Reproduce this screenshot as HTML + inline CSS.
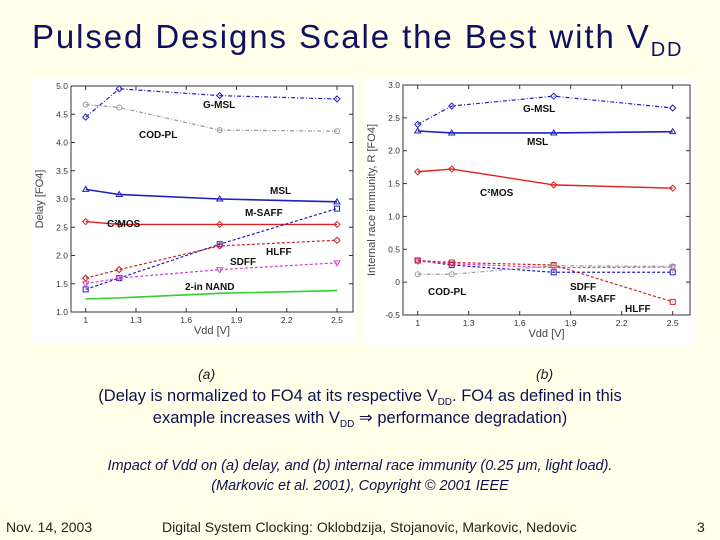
<!DOCTYPE html>
<html><head><meta charset="utf-8"><style>
body{margin:0;background:#ffffea;}
#slide{position:relative;width:720px;height:540px;background:#ffffea;overflow:hidden;font-family:"Liberation Sans",sans-serif;color:#0a0a50;}
.t{position:absolute;white-space:nowrap;}
.sb{font-size:10px;position:relative;top:4px;line-height:0;}
</style></head><body>
<div id="slide">
<div class="t" style="left:32px;top:18px;font-size:33px;color:#101060;letter-spacing:1.9px">Pulsed Designs Scale the Best with V<span style="font-size:20px;position:relative;top:8px;line-height:0">DD</span></div>
<svg id="chart" width="720" height="360" style="position:absolute;left:0;top:0"></svg>
<div class="t" style="left:198px;top:366px;font-size:14px;font-style:italic;color:#222">(a)</div>
<div class="t" style="left:536px;top:366px;font-size:14px;font-style:italic;color:#222">(b)</div>
<div class="t" style="left:0;width:720px;text-align:center;top:385px;font-size:16.5px;line-height:22px;color:#101050">(Delay is normalized to FO4 at its respective V<span class="sb">DD</span>. FO4 as defined in this<br>example increases with V<span class="sb">DD</span> ⇒ performance degradation)</div>
<div class="t" style="left:0;width:720px;text-align:center;top:456px;font-size:14.5px;line-height:20px;font-style:italic;color:#101050">Impact of Vdd on (a) delay, and (b) internal race immunity (0.25 μm, light load).<br>(Markovic et al. 2001), Copyright © 2001 IEEE</div>
<div class="t" style="left:6px;top:519px;font-size:14px;color:#222">Nov. 14, 2003</div>
<div class="t" style="left:162px;top:519px;font-size:14px;color:#222">Digital System Clocking: Oklobdzija, Stojanovic, Markovic, Nedovic</div>
<div class="t" style="left:697px;top:519px;font-size:14px;color:#222">3</div>
</div>
<script>
const xs=[1,1.2,1.8,2.5];
const xTicks=[1,1.3,1.6,1.9,2.2,2.5];
const aTicks=[1.0,1.5,2.0,2.5,3.0,3.5,4.0,4.5,5.0];
const bTicks=[-0.5,0,0.5,1.0,1.5,2.0,2.5,3.0];
const aGMSL=[4.45,4.95,4.83,4.77];
const aCODPL=[4.67,4.62,4.22,4.2];
const aMSL=[3.17,3.08,3.0,2.95];
const aC2MOS=[2.6,2.55,2.55,2.55];
const aMSAFF=[1.4,1.6,2.2,2.83];
const aHLFF=[1.6,1.75,2.17,2.27];
const aSDFF=[1.5,1.6,1.75,1.87];
const aNAND=[1.23,1.25,1.33,1.38];
const bGMSL=[2.4,2.68,2.83,2.65];
const bMSL=[2.3,2.27,2.27,2.29];
const bC2MOS=[1.68,1.72,1.48,1.43];
const bMSAFF=[0.33,0.26,0.15,0.15];
const bSDFF=[0.32,0.28,0.22,0.23];
const bHLFF=[0.33,0.3,0.26,-0.3];
const bCODPL=[0.12,0.12,0.25,0.24];
const svg=document.getElementById('chart');
const NS='http://www.w3.org/2000/svg';
function mk(t,a,p){const e=document.createElementNS(NS,t);for(const k in a)e.setAttribute(k,a[k]);(p||svg).appendChild(e);return e;}
function panel(name,px,py,pw,ph,fl,fr,ft,fb,x0,x1,xp0,xp1,ymin,ymax,yp0,yp1,yTicks,ylabel,fmt){
  const g=mk('g',{});
  
  
  mk('rect',{x:px,y:py,width:pw,height:ph,fill:'#fff'},g);
  const X=v=>xp0+(v-x0)/(x1-x0)*(xp1-xp0);
  const Y=v=>yp0+(v-ymin)/(ymax-ymin)*(yp1-yp0);
  mk('rect',{x:fl,y:ft,width:fr-fl,height:fb-ft,fill:'none',stroke:'#333','stroke-width':1},g);
  yTicks.forEach(v=>{const y=Y(v);
    mk('line',{x1:fl,x2:fl+4,y1:y,y2:y,stroke:'#333'},g);mk('line',{x1:fr,x2:fr-4,y1:y,y2:y,stroke:'#333'},g);
    const t=mk('text',{x:fl-3,y:y+3,'text-anchor':'end','font-size':8.5,fill:'#333'},g);t.textContent=fmt(v);});
  xTicks.forEach(v=>{const x=X(v);
    mk('line',{x1:x,x2:x,y1:fb,y2:fb-4,stroke:'#333'},g);mk('line',{x1:x,x2:x,y1:ft,y2:ft+4,stroke:'#333'},g);
    const t=mk('text',{x:x,y:fb+11,'text-anchor':'middle','font-size':8.5,fill:'#333'},g);t.textContent=String(v);});
  const xl=mk('text',{x:(fl+fr)/2,y:fb+22,'text-anchor':'middle','font-size':11,fill:'#444'},g);xl.textContent='Vdd [V]';
  const yl=mk('text',{x:0,y:0,'text-anchor':'middle','font-size':11,fill:'#444',transform:`translate(${fl-28},${(ft+fb)/2}) rotate(-90)`},g);yl.textContent=ylabel;
  return {g,X,Y};
}
function series(P,name,vals,color,dash,marker,w){
  const pts=vals.map((v,i)=>[P.X(xs[i]),P.Y(v)]);
  const pl=mk('polyline',{points:pts.map(p=>p.join(',')).join(' '),fill:'none',stroke:color,'stroke-width':w||1.2,'stroke-dasharray':dash||'none'},P.g);
  
  
  if(marker)pts.forEach(p=>{let m;
    if(marker==='d')m=mk('polygon',{points:`${p[0]},${p[1]-3} ${p[0]+3},${p[1]} ${p[0]},${p[1]+3} ${p[0]-3},${p[1]}`,fill:'none',stroke:color},P.g);
    else if(marker==='s')m=mk('rect',{x:p[0]-2.5,y:p[1]-2.5,width:5,height:5,fill:'none',stroke:color},P.g);
    else if(marker==='t')m=mk('polygon',{points:`${p[0]},${p[1]-3} ${p[0]+3},${p[1]+2} ${p[0]-3},${p[1]+2}`,fill:'none',stroke:color},P.g);
    else if(marker==='v')m=mk('polygon',{points:`${p[0]},${p[1]+3} ${p[0]+3},${p[1]-2} ${p[0]-3},${p[1]-2}`,fill:'none',stroke:color},P.g);
    else m=mk('circle',{cx:p[0],cy:p[1],r:2.5,fill:'none',stroke:color},P.g);
    
    });
}
function lab(P,name,txt,x,y){const t=mk('text',{x:x,y:y,'font-size':10,'font-weight':'bold',fill:'#111'},P.g);t.textContent=txt;}
const A=panel('chart-a-delay',31,78,327,265,71,353,86,312,1,2.5,85.7,337,1,5,312,86,aTicks,'Delay [FO4]',v=>v.toFixed(1));
series(A,'a-gmsl',aGMSL,'#2020c0','4,2,1,2','d');
series(A,'a-codpl',aCODPL,'#999','4,2,1,2','o');
series(A,'a-msl',aMSL,'#2020c0',null,'t',1.6);
series(A,'a-c2mos',aC2MOS,'#e02020',null,'d',1.4);
series(A,'a-msaff',aMSAFF,'#2020c0','3,2','s');
series(A,'a-hlff',aHLFF,'#d02020','3,2','d');
series(A,'a-sdff',aSDFF,'#d040d0','3,2','v');
series(A,'a-nand',aNAND,'#30d030',null,null,1.6);
lab(A,'a-gmsl','G-MSL',203,108);lab(A,'a-codpl','COD-PL',139,138);lab(A,'a-msl','MSL',270,194);
lab(A,'a-c2mos','C²MOS',107,227);lab(A,'a-msaff','M-SAFF',245,216);lab(A,'a-hlff','HLFF',266,255);
lab(A,'a-sdff','SDFF',230,265);lab(A,'a-nand','2-in NAND',185,290);
const B=panel('chart-b-race-immunity',364,78,332,267,403,690,85,315,1,2.5,417.7,672.7,-0.5,3,315,85,bTicks,'Internal race immunity, R [FO4]',v=>v===0?'0':v.toFixed(1));
series(B,'b-gmsl',bGMSL,'#2020c0','4,2,1,2','d');
series(B,'b-msl',bMSL,'#2020c0',null,'t',1.6);
series(B,'b-c2mos',bC2MOS,'#e02020',null,'d',1.4);
series(B,'b-msaff',bMSAFF,'#2020c0','3,2','s');
series(B,'b-sdff',bSDFF,'#d040d0','3,2','v');
series(B,'b-hlff',bHLFF,'#d02020','3,2','s');
series(B,'b-codpl',bCODPL,'#999','4,2,1,2','o');
lab(B,'b-gmsl','G-MSL',523,112);lab(B,'b-msl','MSL',527,145);lab(B,'b-c2mos','C²MOS',480,196);
lab(B,'b-sdff','SDFF',570,290);lab(B,'b-msaff','M-SAFF',578,302);lab(B,'b-hlff','HLFF',625,312);lab(B,'b-codpl','COD-PL',428,295);
</script>
</body></html>
